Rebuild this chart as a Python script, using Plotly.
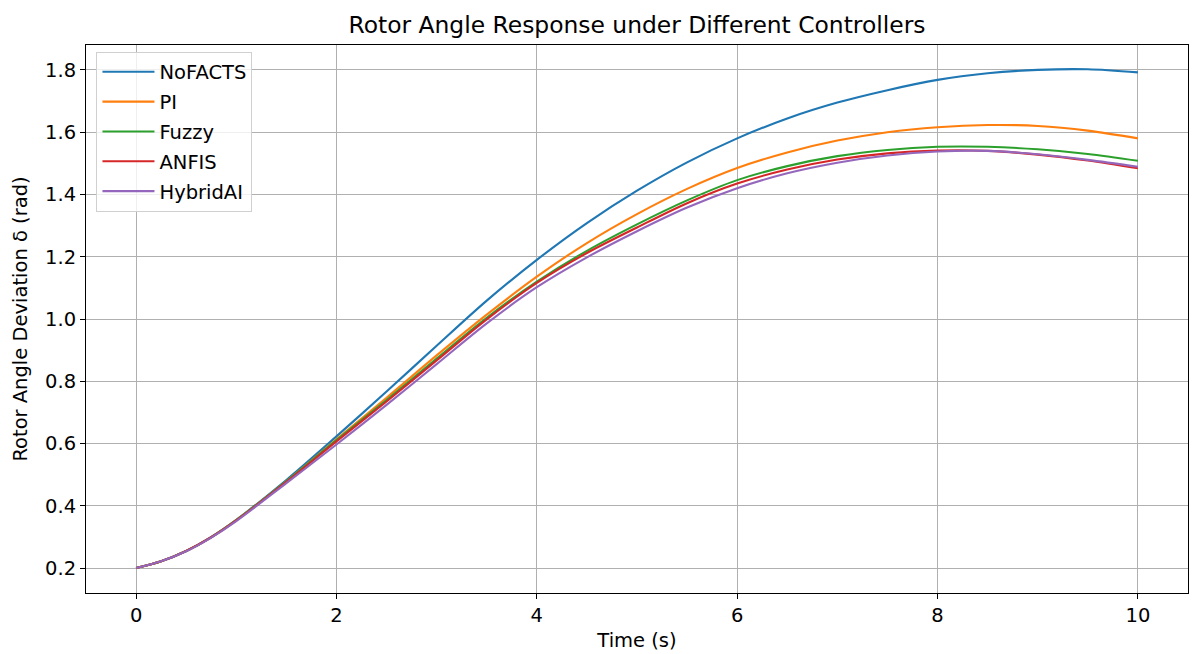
import plotly.graph_objects as go

time_s = [0, 0.25, 0.5, 0.75, 1, 1.5, 2, 2.5, 3, 3.5, 4, 4.5, 5, 5.5, 6, 6.5, 7, 7.5, 8, 8.5, 9, 9.5, 10]

nofacts = [0.200, 0.222, 0.255, 0.300, 0.355, 0.483, 0.623, 0.767, 0.914, 1.059, 1.190, 1.308, 1.412,
           1.503, 1.580, 1.644, 1.695, 1.735, 1.768, 1.789, 1.800, 1.802, 1.792]
pi_ctrl = [0.200, 0.222, 0.255, 0.299, 0.354, 0.479, 0.614, 0.747, 0.883, 1.014, 1.136, 1.244, 1.337,
           1.418, 1.485, 1.535, 1.573, 1.600, 1.616, 1.623, 1.620, 1.605, 1.580]
fuzzy = [0.200, 0.222, 0.255, 0.299, 0.354, 0.479, 0.611, 0.740, 0.873, 1.004, 1.120, 1.219, 1.304,
         1.381, 1.446, 1.491, 1.523, 1.543, 1.553, 1.553, 1.545, 1.530, 1.508]
anfis = [0.200, 0.222, 0.255, 0.299, 0.353, 0.477, 0.607, 0.735, 0.867, 0.999, 1.116, 1.212, 1.294,
         1.372, 1.435, 1.480, 1.512, 1.532, 1.541, 1.540, 1.528, 1.509, 1.484]
hybrid = [0.200, 0.222, 0.254, 0.298, 0.351, 0.473, 0.597, 0.724, 0.855, 0.986, 1.102, 1.198, 1.282,
          1.358, 1.420, 1.468, 1.502, 1.525, 1.538, 1.540, 1.529, 1.511, 1.489]

series_names = ["NoFACTS", "PI", "Fuzzy", "ANFIS", "HybridAI"]
series_values = [nofacts, pi_ctrl, fuzzy, anfis, hybrid]
colors = ["#1f77b4", "#ff7f0e", "#2ca02c", "#d62728", "#9467bd"]

x_ticks = [0, 2, 4, 6, 8, 10]
y_ticks = [0.2, 0.4, 0.6, 0.8, 1.0, 1.2, 1.4, 1.6, 1.8]

FONT = "DejaVu Sans"
FS = 19.5

fig = go.Figure()
for name, vals, col in zip(series_names, series_values, colors):
    fig.add_trace(go.Scatter(
        x=time_s, y=vals, mode="lines", name=name, legendgroup=name,
        line=dict(color=col, width=2.1, shape="spline", smoothing=0.9),
    ))

axis_common = dict(
    showline=True, linecolor="black", linewidth=1, mirror=True,
    ticks="outside", ticklen=5, tickwidth=1, tickcolor="black",
    showgrid=True, gridcolor="#b0b0b0", gridwidth=0.8,
    zeroline=False, automargin=False,
    tickfont=dict(family=FONT, size=FS, color="black"),
)

fig.update_layout(
    width=1198, height=654,
    margin=dict(l=85.5, r=10, t=45, b=60.5, autoexpand=False),
    paper_bgcolor="white", plot_bgcolor="white",
    font=dict(family=FONT, size=FS, color="black"),
    title=dict(text="Rotor Angle Response under Different Controllers",
               x=0.5317, xanchor="center", y=0.962, yanchor="middle",
               font=dict(family=FONT, size=23.4, color="black")),
    xaxis=dict(range=[-0.5, 10.5], tickvals=x_ticks,
               ticktext=[str(v) for v in x_ticks],
               title=dict(text="Time (s)", standoff=6,
                          font=dict(family=FONT, size=FS, color="black")),
               **axis_common),
    yaxis=dict(range=[0.12, 1.88], tickvals=y_ticks,
               ticktext=[f"{v:.1f}" for v in y_ticks],
               title=dict(text="Rotor Angle Deviation δ (rad)", standoff=12,
                          font=dict(family=FONT, size=FS, color="black")),
               **axis_common),
    legend=dict(x=0.0095, y=0.988, xanchor="left", yanchor="top",
                bgcolor="rgba(255,255,255,0.8)", bordercolor="#d0d0d0",
                borderwidth=1, tracegroupgap=1.5, itemwidth=52,
                font=dict(family=FONT, size=FS, color="black")),
    showlegend=True,
)

fig.write_html("out.html")
